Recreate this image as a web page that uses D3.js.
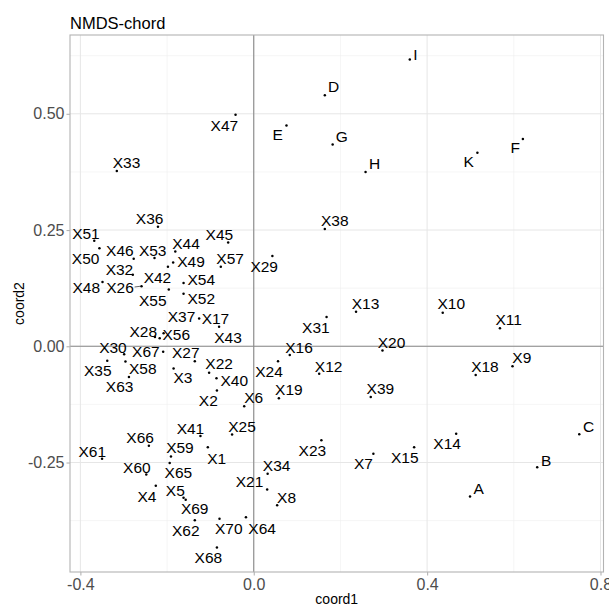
<!DOCTYPE html>
<html>
<head>
<meta charset="utf-8">
<script src="https://cdn.jsdelivr.net/npm/d3@7"></script>
<style>
  body { margin: 0; background: #fff; }
  svg { display: block; font-family: "Liberation Sans", Arial, Helvetica, sans-serif; }
</style>
</head>
<body>
<svg id="chart" width="609" height="608"></svg>
<script>
// NMDS site scores (chord distance)
const sites = [
  "I","D","G","H","K","F","E","X47","X33","X38",
  "X36","X51","X50","X46","X53","X44","X45","X49","X57","X29",
  "X42","X32","X48","X26","X54","X55","X52","X37","X17","X43",
  "X28","X56","X31","X13","X10","X11","X16","X20","X9","X18",
  "X12","X24","X19","X39","X30","X67","X27","X35","X58","X63",
  "X3","X22","X40","X2","X6","X61","X66","X60","X4","X41",
  "X59","X65","X5","X69","X25","X1","X34","X21","X8","X23",
  "X62","X70","X64","X68","X7","X15","X14","A","B","C"
];
const coord1 = [
  0.360, 0.164, 0.182, 0.258, 0.516, 0.621, 0.0755, -0.042, -0.316, 0.164,
  -0.221, -0.368, -0.356, -0.277, -0.229, -0.181, -0.059, -0.186, -0.076, 0.043,
  -0.198, -0.279, -0.349, -0.259, -0.162, -0.196, -0.162, -0.217, -0.126, -0.080,
  -0.228, -0.208, 0.168, 0.236, 0.436, 0.568, 0.083, 0.297, 0.597, 0.512,
  0.151, 0.056, 0.058, 0.270, -0.299, -0.209, -0.136, -0.338, -0.296, -0.288,
  -0.185, -0.103, -0.086, -0.085, -0.022, -0.350, -0.242, -0.248, -0.226, -0.123,
  -0.191, -0.194, -0.162, -0.157, -0.050, -0.106, 0.032, 0.031, 0.054, 0.156,
  -0.136, -0.079, -0.018, -0.085, 0.276, 0.370, 0.467, 0.499, 0.654, 0.751
];
const coord2 = [
  0.617, 0.540, 0.434, 0.375, 0.416, 0.446, 0.475, 0.498, 0.377, 0.252,
  0.257, 0.227, 0.211, 0.188, 0.190, 0.204, 0.223, 0.180, 0.171, 0.194,
  0.171, 0.154, 0.138, 0.129, 0.136, 0.122, 0.113, 0.017, 0.060, 0.042,
  0.020, 0.028, 0.063, 0.074, 0.072, 0.039, -0.019, -0.009, -0.043, -0.062,
  -0.059, -0.032, -0.112, -0.109, -0.017, -0.012, -0.032, -0.031, -0.033, -0.066,
  -0.048, -0.057, -0.069, -0.095, -0.129, -0.242, -0.214, -0.276, -0.300, -0.193,
  -0.237, -0.251, -0.326, -0.330, -0.190, -0.217, -0.274, -0.308, -0.342, -0.202,
  -0.374, -0.371, -0.368, -0.433, -0.231, -0.217, -0.188, -0.323, -0.260, -0.189
];

const xTickValues = [-0.4, 0.0, 0.4, 0.8];
const xTickLabels = ["-0.4", "0.0", "0.4", "0.8"];
const yTickValues = [-0.25, 0.0, 0.25, 0.50];
const yTickLabels = ["-0.25", "0.00", "0.25", "0.50"];
const xMinorTicks = [-0.2, 0.2, 0.6];
const yMinorTicks = [-0.375, -0.125, 0.125, 0.375, 0.625];

// Repelled label placement: pixel offset of each label centre from its point
const labelOffset = {
  I:[5.7,-5.3], D:[8.7,-8.3], G:[9.1,-7.6], H:[9,-8.9], K:[-8.6,9], F:[-7.7,8.8],
  E:[-8.9,9], X47:[-11.2,10.4], X33:[9.7,-9], X38:[10,-9], X36:[-8.3,-8.4],
  X51:[-8.3,-7.5], X50:[-13.8,9.8], X46:[-13.8,-8.5], X53:[-1.8,-7.5], X44:[10.7,-8.3],
  X45:[-8.8,-7.9], X49:[17.9,-1.5], X57:[9.3,-8.2], X29:[-8.2,10.1], X42:[-10.5,10.8],
  X32:[-13.4,-5.1], X48:[-16.2,5], X26:[-21.4,0.7], X54:[17.7,-3.5], X55:[-16,10.7],
  X52:[17.7,4.7], X37:[21.8,-22.2], X17:[16.3,-0.2], X43:[9,10.4], X28:[-11.7,-6],
  X56:[12.7,1], X31:[-10.7,10.8], X13:[9.5,-8.4], X10:[8.6,-9.4], X11:[8.8,-8.5],
  X16:[9.3,-7.5], X20:[9,-8.3], X9:[9.3,-8.5], X18:[9.3,-8.7], X12:[9.4,-7.5],
  X24:[-9,10.1], X19:[10,-9.1], X39:[9.6,-8.9], X30:[-11.2,-6.5], X67:[-17.3,-0.2],
  X27:[-9,-9.2], X35:[-9.5,9.7], X58:[17.3,7.1], X63:[-9.3,9.1], X3:[9.3,9.2],
  X22:[10,-9], X40:[17.8,2.5], X2:[-8.6,10], X6:[9.5,-8.5], X61:[-9.8,-7.5],
  X66:[-8.7,-8.2], X60:[-9.4,-6.8], X4:[-8.8,10.5], X41:[-10,-7.3], X59:[9,-8.8],
  X65:[8.7,9.8], X5:[-8.2,-7.5], X69:[9,8.8], X25:[9.9,-8.5], X1:[8.9,10.8],
  X34:[9,-8.1], X21:[-17.6,-8.5], X8:[9.4,-8.3], X23:[-9,10.2], X62:[-9,10],
  X70:[9.3,10], X64:[16.2,11], X68:[-8.5,10.2], X7:[-10,10], X15:[-9.3,10],
  X14:[-9,9.7], A:[8.7,-7.7], B:[8.9,-7.2], C:[9.4,-8.2]
};
// labels pushed far enough to get a leader segment
const segmentLabels = ["X26"];

const svg = d3.select("#chart");
const W = 609, H = 608;
const margin = { top: 35, right: 5.5, bottom: 36, left: 70 };

const points = sites.map((name, i) => ({ name, x: coord1[i], y: coord2[i] }));

// ggplot-style 5% expansion of the data range
function expand(ext, f) {
  const d = ext[1] - ext[0];
  return [ext[0] - d * f, ext[1] + d * f];
}
const x = d3.scaleLinear()
  .domain(expand(d3.extent(coord1), 0.05))
  .range([margin.left, W - margin.right]);
const y = d3.scaleLinear()
  .domain(expand(d3.extent(coord2), 0.05))
  .range([H - margin.bottom, margin.top]);

const x0 = margin.left, x1 = W - margin.right;
const y0 = margin.top, y1 = H - margin.bottom;

// grid
const grid = svg.append("g");
grid.selectAll(".xminor").data(xMinorTicks).join("line")
  .attr("x1", d => x(d)).attr("x2", d => x(d)).attr("y1", y0).attr("y2", y1)
  .attr("stroke", "#efefef").attr("stroke-width", 0.6);
grid.selectAll(".yminor").data(yMinorTicks).join("line")
  .attr("y1", d => y(d)).attr("y2", d => y(d)).attr("x1", x0).attr("x2", x1)
  .attr("stroke", "#efefef").attr("stroke-width", 0.6);
grid.selectAll(".xmajor").data(xTickValues).join("line")
  .attr("x1", d => x(d)).attr("x2", d => x(d)).attr("y1", y0).attr("y2", y1)
  .attr("stroke", "#e6e6e6").attr("stroke-width", 1);
grid.selectAll(".ymajor").data(yTickValues).join("line")
  .attr("y1", d => y(d)).attr("y2", d => y(d)).attr("x1", x0).attr("x2", x1)
  .attr("stroke", "#e6e6e6").attr("stroke-width", 1);

// zero reference lines
svg.append("line").attr("x1", x(0)).attr("x2", x(0)).attr("y1", y0).attr("y2", y1)
  .attr("stroke", "#8a8a8a").attr("stroke-width", 1.1);
svg.append("line").attr("y1", y(0)).attr("y2", y(0)).attr("x1", x0).attr("x2", x1)
  .attr("stroke", "#8a8a8a").attr("stroke-width", 1.1);

// panel border
svg.append("rect").attr("x", x0).attr("y", y0)
  .attr("width", x1 - x0).attr("height", y1 - y0)
  .attr("fill", "none").attr("stroke", "#b3b3b3").attr("stroke-width", 1.1);

// axes
const xAxis = svg.append("g").attr("transform", `translate(0,${y1})`)
  .call(d3.axisBottom(x).tickValues(xTickValues)
    .tickFormat((d, i) => xTickLabels[i]).tickSize(3.5).tickPadding(3));
const yAxis = svg.append("g").attr("transform", `translate(${x0},0)`)
  .call(d3.axisLeft(y).tickValues(yTickValues)
    .tickFormat((d, i) => yTickLabels[i]).tickSize(3.5).tickPadding(2));
[xAxis, yAxis].forEach(g => {
  g.select(".domain").remove();
  g.selectAll(".tick line").attr("stroke", "#b3b3b3").attr("stroke-width", 1.1);
  g.selectAll(".tick text").attr("fill", "#4d4d4d")
    .style("font-size", "16px").style("font-family", "'Liberation Sans', Arial, sans-serif");
});

// points
const fs = 15.5;
const layer = svg.append("g");
points.forEach(p => {
  if (segmentLabels.includes(p.name)) {
    const [dx, dy] = labelOffset[p.name];
    layer.append("line")
      .attr("x1", x(p.x) - 1.5).attr("y1", y(p.y))
      .attr("x2", x(p.x) + dx + 14.5).attr("y2", y(p.y) + dy)
      .attr("stroke", "#000").attr("stroke-width", 0.6);
  }
});
layer.selectAll("circle").data(points).join("circle")
  .attr("cx", d => x(d.x)).attr("cy", d => y(d.y)).attr("r", 1.25)
  .attr("fill", "#000");
layer.selectAll("text").data(points).join("text")
  .attr("x", d => x(d.x) + labelOffset[d.name][0])
  .attr("y", d => y(d.y) + labelOffset[d.name][1] + fs * 0.36)
  .attr("text-anchor", "middle")
  .style("font-size", fs + "px")
  .attr("fill", "#000")
  .text(d => d.name);

// titles
svg.append("text").attr("x", x0).attr("y", 28.5)
  .style("font-size", "16.5px").attr("fill", "#000").text("NMDS-chord");
svg.append("text").attr("x", (x0 + x1) / 2).attr("y", 604)
  .attr("text-anchor", "middle").style("font-size", "14px").attr("fill", "#000")
  .text("coord1");
svg.append("text")
  .attr("transform", `translate(24,${(y0 + y1) / 2}) rotate(-90)`)
  .attr("text-anchor", "middle").style("font-size", "14px").attr("fill", "#000")
  .text("coord2");
</script>
</body>
</html>
